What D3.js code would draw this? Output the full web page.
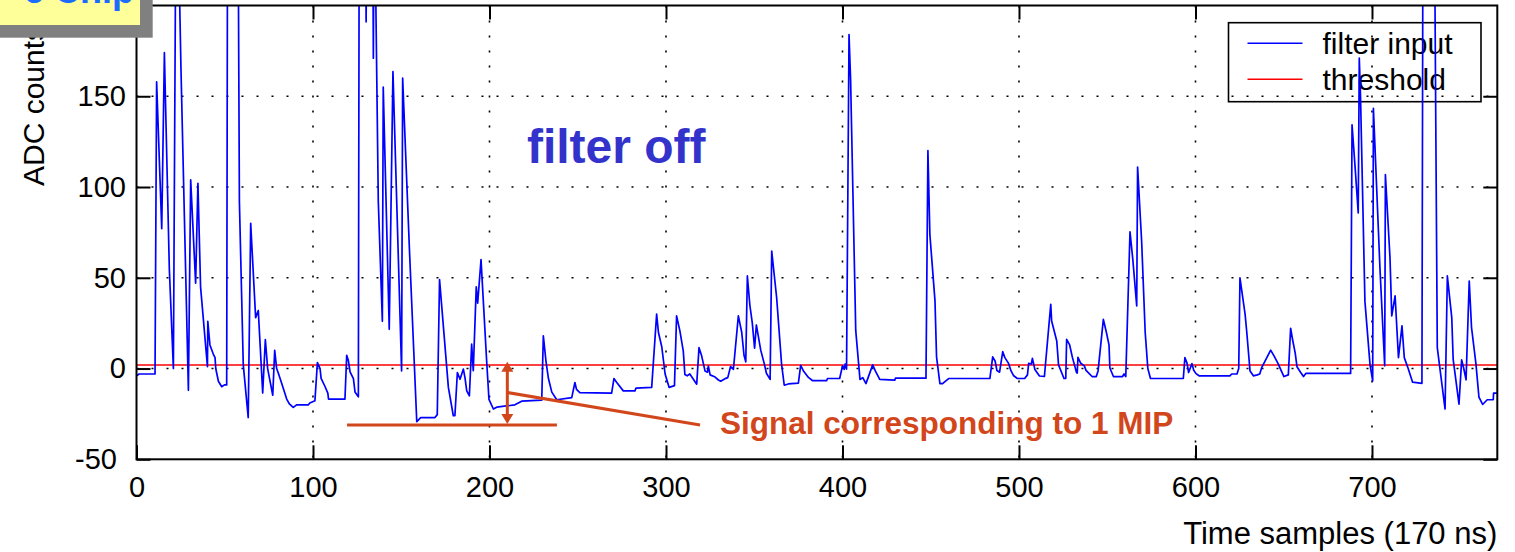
<!DOCTYPE html>
<html>
<head>
<meta charset="utf-8">
<script src="https://d3js.org/d3.v7.min.js"></script>
<style>
    html, body { margin: 0; padding: 0; background: #fff; }
    svg { display: block; font-family: "Liberation Sans", Arial, sans-serif; }
</style>
</head>
<body>
<div id="adc-chart"></div>
<script>
// vertices of the filter input trace (sample index, ADC counts)
const sampleIdx = [
    0, 1.5, 10.5, 11.4, 14.3, 15.8, 18.6, 20.9, 22.3, 23.5, 25.2, 29.4, 30.7, 33.5, 34.8, 36.3,
    40.2, 40.4, 41.6, 43.5, 44.5, 44.9, 46.4, 48.3, 49.8, 51.1, 51.6, 57.5, 58.3, 60.5, 63.3, 64.7,
    67.5, 69, 71.5, 73, 74.3, 77.2, 78.3, 79.4, 80.7, 82.2, 85.1, 86.6, 88.8, 90.7, 97.3, 98.2,
    101.1, 102.5, 104, 104.6, 106.8, 108.4, 108.8, 118.1, 119.1, 120, 121, 122.9, 123.8, 125.7,
    126.2, 129.6, 130.1, 130.6, 133.8, 134.2, 134.6, 135.5, 137, 139.3, 139.8, 143.2, 145.3, 150.2,
    150.8, 154.6, 158.8, 161, 169.1, 170.4, 171.7, 176.7, 179.5, 180.4, 181.8, 183.3, 185.2, 186.1,
    187.1, 188.6, 189.9, 190.8, 192.5, 193.3, 195.2, 198.4, 199.7, 202.2, 204.1, 214.4, 218.2, 229.6,
    230.5, 232, 233.4, 235.3, 238.1, 246.6, 248.4, 249.3, 251.2, 269.2, 270.5, 272, 275.8, 282.4,
    283, 291.9, 294.7, 295.7, 297.6, 299.5, 301.8, 304.8, 306, 307.9, 309.8, 310.7, 312, 313.5,
    317.4, 318.7, 320.2, 322.1, 323.5, 324, 325, 327.5, 329.7, 331, 333.9, 335, 336.6, 338.2,
    341, 342.9, 344.2, 345.2, 346.1, 347.5, 348.9, 350.2, 351.2, 353.7, 355.6, 356.9, 359, 359.9,
    362.7, 365.5, 367, 369.3, 375, 376.3, 377.8, 380.7, 383.1, 391, 391.5, 398.4, 400, 401,
    401.5, 402.3, 403.7, 404.6, 407.5, 409.9, 411.5, 413.3, 417.1, 418.6, 421.1, 429.6, 430, 447.3,
    448.4, 449.5, 452.4, 453.3, 455.2, 456.7, 460.1, 483.5, 485.1, 486.5, 487.5, 489, 490.8, 492,
    494, 495.5, 497, 499.1, 503.2, 504.8, 505.5, 507, 507.6, 509, 511.6, 514.4, 518, 518.5,
    521.4, 522.4, 525.5, 526.5, 527, 528.7, 530.3, 532.6, 533, 533.4, 535, 537, 538, 541.4,
    543.8, 544.8, 547.8, 549.5, 551, 551.5, 553.5, 558.7, 559.5, 560.5, 562.9, 564.5, 566.7, 567.2,
    569.5, 571.5, 573, 574.5, 593.1, 594, 595.2, 596.1, 598, 599, 600.3, 602, 619.5, 620.5,
    623.5, 624.5, 625.2, 628.1, 629, 630.9, 632.8, 635, 636.4, 637.5, 642.6, 644.5, 646.8, 648.5,
    650.1, 652.6, 653.9, 655, 656.5, 657.5, 659.5, 661.2, 662.5, 687.9, 688.7, 690.5, 692.2, 692.8,
    693.5, 696, 698.9, 700.4, 700.8, 704.5, 707.2, 707.6, 710.2, 711.2, 713.1, 715, 717, 718.3,
    720.5, 723, 728.3, 728.9, 735.3, 737, 741.4, 742.7, 745.2, 746, 749.3, 750.8, 752, 753.3,
    755.1, 756.4, 758.9, 760.6, 762.7, 765.3, 768.7, 768.9, 771
];
const adcCounts = [
    -4, -3, -3, 158, 77, 174, 55, 0, 250, 250, 165, -12, 104, 47, 102, 45,
    1, 26, 13, 8, 6, 0, -7, -10, -9, -9, 260, 260, 92, 2, -27, 80,
    28, 32, -13.5, 16, 0, -14.7, 10, 0, -3.5, -8, -16.8, -19.5, -21.4, -20, -20, -19,
    -17.7, 3.3, 0, -5.4, -9.9, -13.5, -16.9, -16.9, 7.3, 4.5, -1.9, -5.6, -12.9, -15.6,
    260, 260, 191, 260, 260, 171, 260, 210, 92, 26, 155, 21.6, 163.6, -1.3,
    160, 66.5, -29.3, -27, -27, -25.4, 49, -10.4, -26, -26, -2.2, -5.9, -0.3, -5,
    -12.3, -15, 13.4, -1.2, 45, 36, 60, 4, -17, -22.3, -21.3, -20, -18, -17.4,
    18, 4, -5.5, -13, -17.2, -16, -7.7, -11.5, -13.3, -13.5, -5.5, -7.5, -12.3, -12.3,
    -10.8, -10.4, 30, 20, 12, -3, -10.4, -9.4, 29, 20.6, 9.6, -3.3, -4, -3,
    -8.6, 11.5, 7, -1.3, -2, 1.4, -3.5, -4.5, -6.3, -7, -5.4, -5, 1.1, -0.4,
    29, 20, 7.3, 3.7, 51, 35, 25, 11.2, 24, 10, 3, -2.6, -6, 64.7,
    39, 2.3, -9.2, -8.5, -8, 1.8, -1.2, -4.9, -6.7, -6.7, -5.5, -5.5, 1.5, -0.4,
    2.4, -0.3, 184, 159, 21, -6, -5, -8.3, 2, -1.3, -6, -6.4, -5.3, -5.3,
    120, 74, 37.4, 6.3, -8.3, -8.3, -5.5, -5.5, 6.4, 4, -1.1, -2, 9.3, 6,
    3, -1.3, -4, -5.5, -5.5, -3.5, 2.9, 2.5, 5.6, -0.5, -4.1, -4.4, 35.4, 26.2,
    15.2, 2, -5.5, -5.5, 16.1, 13, 6, -2.2, -2.5, 6.2, 2.9, 1.5, -1, -4.4,
    -4.4, -1.3, 27.1, 20, 13, 0.3, -4.4, -4.4, -3, -4.4, 75.3, 60, 34.5, 111,
    70, 20, 0, -5.5, -5.5, 6, 3, -2.2, 2.7, -1, -2.8, -4, -4, -3,
    -3, 0, 50, 30, 20.7, -1.3, -4, -3.5, -3, 0.5, 10.1, 7, 2.7, -1,
    -4.4, -3.5, 22.2, 16, 8.5, 1, -2, -4.4, -2.7, -2.7, 134.3, 110, 85.7, 171,
    150, 37, 2, -6.8, 143.4, 55.5, 1.5, 106.8, 61, 29, 40, 6, 23.5, 6,
    0, -7.5, -8.2, 260, 260, 11.5, -22.3, 51, 28, 5, -19.6, 4.8, 0, -6.2,
    48.2, 22.6, 2.6, -15.8, -19.8, -17.2, -17.2, -13.5, -13.5
];
const thresholdLevel = 2;
const xDomain = [0, 771];
const yDomain = [-50, 200];
const xTicks = [0, 100, 200, 300, 400, 500, 600, 700];
const yTicks = [-50, 0, 50, 100, 150];
const seriesNames = ["filter input", "threshold"];

render();

function render() {
    const width = 1515, height = 552;
    const margin = { top: 5.5, right: 17.7, bottom: 92.7, left: 136.5 };
    const innerW = width - margin.left - margin.right;
    const innerH = height - margin.top - margin.bottom;

    const svg = d3.select('#adc-chart').append('svg')
        .attr('width', width)
        .attr('height', height);

    const x = d3.scaleLinear().domain(xDomain).range([margin.left, margin.left + innerW]);
    const y = d3.scaleLinear().domain(yDomain).range([margin.top + innerH, margin.top]);

    // legend sits under the trace (no fill, the trace runs over it)
    const legend = svg.append('g').attr('transform', 'translate(1228.5,22.7)');
    legend.append('rect')
        .attr('width', 252.5).attr('height', 79)
        .attr('fill', 'none')
        .attr('stroke', '#000')
        .attr('stroke-width', 1.6);
    const legendColor = ['#0000ff', '#ff0000'];
    legend.selectAll('g.item')
        .data(seriesNames)
        .join('g')
        .attr('transform', (d, i) => `translate(0,${20.6 + i * 36})`)
        .each(function (d, i) {
            const item = d3.select(this);
            item.append('line')
                .attr('x1', 19).attr('x2', 74)
                .attr('stroke', legendColor[i])
                .attr('stroke-width', 1.5);
            item.append('text')
                .attr('x', 94)
                .attr('y', 11)
                .attr('font-size', 30)
                .text(d);
        });

    // dotted grid
    const grid = svg.append('g').attr('class', 'grid');
    grid.selectAll('line.vx')
        .data(xTicks.filter(d => d > xDomain[0]))
        .join('line')
        .attr('x1', d => x(d)).attr('x2', d => x(d))
        .attr('y1', margin.top).attr('y2', margin.top + innerH);
    grid.selectAll('line.hy')
        .data(yTicks.filter(d => d > yDomain[0]))
        .join('line')
        .attr('x1', margin.left).attr('x2', margin.left + innerW)
        .attr('y1', d => y(d)).attr('y2', d => y(d));
    grid.selectAll('line')
        .attr('stroke', '#000')
        .attr('stroke-width', 1.6)
        .attr('stroke-dasharray', '2,13');

    // clip for the trace
    svg.append('clipPath').attr('id', 'plot-clip')
        .append('rect')
        .attr('x', margin.left).attr('y', margin.top)
        .attr('width', innerW).attr('height', innerH);

    const plot = svg.append('g').attr('clip-path', 'url(#plot-clip)');

    plot.append('line')
        .attr('x1', x(xDomain[0])).attr('x2', x(xDomain[1]))
        .attr('y1', y(thresholdLevel)).attr('y2', y(thresholdLevel))
        .attr('stroke', '#ff0000')
        .attr('stroke-width', 1.5);

    const line = d3.line()
        .x(d => x(d[0]))
        .y(d => y(d[1]));

    plot.append('path')
        .datum(d3.zip(sampleIdx, adcCounts))
        .attr('d', line)
        .attr('fill', 'none')
        .attr('stroke', '#0000ff')
        .attr('stroke-width', 1.7)
        .attr('stroke-linejoin', 'round');

    // axes, ticks inside like matlab
    const axisFont = g => g.selectAll('text')
        .attr('font-size', 29)
        .attr('font-family', '"Liberation Sans", Arial, sans-serif')
        .attr('fill', '#000');
    const plain = d => String(d);

    svg.append('g')
        .attr('transform', `translate(0,${margin.top + innerH})`)
        .call(d3.axisBottom(x).tickValues(xTicks).tickSize(-14).tickPadding(17).tickFormat(plain))
        .call(g => g.select('.domain').remove())
        .call(g => g.selectAll('line').attr('stroke-width', 2))
        .call(axisFont);

    svg.append('g')
        .attr('transform', `translate(0,${margin.top})`)
        .call(d3.axisTop(x).tickValues(xTicks).tickSize(-14).tickFormat(''))
        .call(g => g.select('.domain').remove())
        .call(g => g.selectAll('line').attr('stroke-width', 2));

    svg.append('g')
        .attr('transform', `translate(${margin.left},0)`)
        .call(d3.axisLeft(y).tickValues(yTicks).tickSize(-14).tickPadding(10.5).tickFormat(plain))
        .call(g => g.select('.domain').remove())
        .call(g => g.selectAll('line').attr('stroke-width', 2))
        .call(axisFont)
        .call(g => g.selectAll('.tick text').filter(d => d === -50).attr('dx', -9));

    svg.append('g')
        .attr('transform', `translate(${margin.left + innerW},0)`)
        .call(d3.axisRight(y).tickValues(yTicks).tickSize(-14).tickFormat(''))
        .call(g => g.select('.domain').remove())
        .call(g => g.selectAll('line').attr('stroke-width', 2));

    // frame
    svg.append('rect')
        .attr('x', margin.left).attr('y', margin.top)
        .attr('width', innerW).attr('height', innerH)
        .attr('fill', 'none')
        .attr('stroke', '#000')
        .attr('stroke-width', 2);

    // axis labels
    svg.append('text')
        .attr('x', margin.left + innerW)
        .attr('y', 544)
        .attr('text-anchor', 'end')
        .attr('font-size', 31)
        .text('Time samples (170 ns)');

    svg.append('text')
        .attr('transform', 'translate(44,186) rotate(-90)')
        .attr('text-anchor', 'start')
        .attr('font-size', 30)
        .text('ADC counts');

    // "filter off" label
    svg.append('text')
        .attr('x', x(221.2))
        .attr('y', y(113))
        .attr('font-size', 48)
        .attr('font-weight', 'bold')
        .attr('fill', '#3333cc')
        .text('filter off');

    // 1 MIP annotation
    const mip = '#d2461c';
    const ann = svg.append('g').attr('stroke', mip).attr('fill', mip);
    ann.append('line')
        .attr('x1', x(119.3)).attr('x2', x(238.2))
        .attr('y1', y(-31.1)).attr('y2', y(-31.1))
        .attr('stroke-width', 3);
    const ax = x(210.1), aTop = y(3.7), aBot = y(-30.5);
    ann.append('line')
        .attr('x1', ax).attr('x2', ax)
        .attr('y1', aTop + 6).attr('y2', aBot - 6)
        .attr('stroke-width', 3);
    ann.append('path')
        .attr('d', `M${ax},${aTop} l-6,10 h12 Z M${ax},${aBot} l-6,-10 h12 Z`)
        .attr('stroke', 'none');
    ann.append('line')
        .attr('x1', ax).attr('y1', y(-13.2))
        .attr('x2', x(319.3)).attr('y2', y(-31.1))
        .attr('stroke-width', 3);
    svg.append('text')
        .attr('x', x(330.6))
        .attr('y', y(-35.9))
        .attr('font-size', 31.5)
        .attr('font-weight', 'bold')
        .attr('fill', mip)
        .text('Signal corresponding to 1 MIP');

    // cropped slide box in the corner
    const box = svg.append('g');
    box.append('rect')
        .attr('x', 0).attr('y', 0)
        .attr('width', 152.7).attr('height', 37.7)
        .attr('fill', '#808080');
    box.append('rect')
        .attr('x', 0).attr('y', 0)
        .attr('width', 140).attr('height', 25)
        .attr('fill', '#ffff99');
    box.append('text')
        .attr('x', 134)
        .attr('y', 3)
        .attr('text-anchor', 'end')
        .attr('font-size', 36)
        .attr('font-weight', 'bold')
        .attr('fill', '#1a6cff')
        .text('e Chip');
}
</script>
</body>
</html>
